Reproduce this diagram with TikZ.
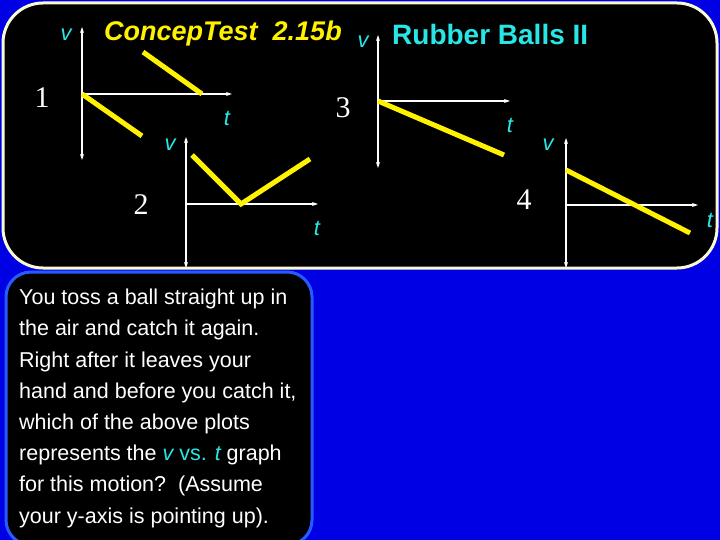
\documentclass[tikz,border=0pt]{standalone}
\usepackage{fontspec}
\setmainfont{Liberation Sans}
\newfontfamily\serifnum{Liberation Serif}
\definecolor{cy}{RGB}{40,230,230}
\begin{document}
\begin{tikzpicture}[x=1pt,y=-1pt,
  ax/.style={white,line width=1.2pt,-{Stealth[length=6pt,width=4pt]}},
  yl/.style={yellow,line width=5pt},
  lab/.style={text=cy,font=\itshape\fontsize{22}{24}\selectfont,inner sep=0},
  num/.style={text=white,font=\serifnum\fontsize{30}{32}\selectfont,inner sep=0}]
\usetikzlibrary{arrows.meta}
\fill[blue!90!black] (0,0) rectangle (720,540);
\useasboundingbox (0,0) rectangle (720,540);
\draw[fill=black,draw={rgb,255:red,250;green,250;blue,210},line width=3pt,rounded corners=40pt] (3,3) rectangle (717,268);
\draw[fill=black,draw={rgb,255:red,40;green,90;blue,255},line width=3pt,rounded corners=25pt] (6,272) rectangle (312,545);
% graph 1
\coordinate (o1) at (82,94);
\draw[ax] (o1) -- (82,27); \draw[ax] (o1) -- (82,160); \draw[ax] (o1) -- (232,94);
\draw[yl] (o1) -- (142,136); \draw[yl] (143,52) -- (202,94);
\node[num] (n1) at (42,98) {1}; \node[lab] (v1) at (66,35) {v}; \node[lab] (t1) at (227,118) {t};
% graph 2
\coordinate (o2) at (186,204);
\draw[ax] (o2) -- (186,137); \draw[ax] (o2) -- (186,268); \draw[ax] (o2) -- (318,204);
\draw[yl,line join=miter] (192,155) -- (241,204) -- (310,159);
\node[num] (n2) at (141,205) {2}; \node[lab] (v2) at (170,145) {v}; \node[lab] (t2) at (317,228) {t};
% graph 3
\coordinate (o3) at (378,101);
\draw[ax] (o3) -- (378,35); \draw[ax] (o3) -- (378,168); \draw[ax] (o3) -- (510,101);
\draw[yl] (o3) -- (504,155);
\node[num] (n3) at (343,108) {3}; \node[lab] (v3) at (363,42) {v}; \node[lab] (t3) at (510,125) {t};
% graph 4
\coordinate (o4) at (566,205);
\draw[ax] (o4) -- (566,138); \draw[ax] (o4) -- (566,268); \draw[ax] (o4) -- (698,205);
\draw[yl] (566,170) -- (690,233);
\node[num] (n4) at (524,200) {4}; \node[lab] (v4) at (548,145) {v}; \node[lab] (t4) at (710,220) {t};
% titles
\node[anchor=west,text=yellow,font=\bfseries\itshape\fontsize{27}{30}\selectfont,inner sep=0] (title) at (104,34) {ConcepTest\ \ 2.15b};
\node[anchor=west,text=cy,font=\bfseries\fontsize{28}{30}\selectfont,inner sep=0] (sub) at (392,34) {Rubber Balls II};
% question
\node[anchor=north west,text=white,font=\fontsize{21.5}{31.2}\selectfont,align=left,inner sep=0] (q) at (19,289) {You toss a ball straight up in\\
the air and catch it again.\\
Right after it leaves your\\
hand and before you catch it,\\
which of the above plots\\
represents the {\color{cy}\itshape v} {\color{cy}vs.} {\color{cy}\itshape t} graph\\
for this motion?\ \ (Assume\\
your y-axis is pointing up).};
\end{tikzpicture}
\end{document}
